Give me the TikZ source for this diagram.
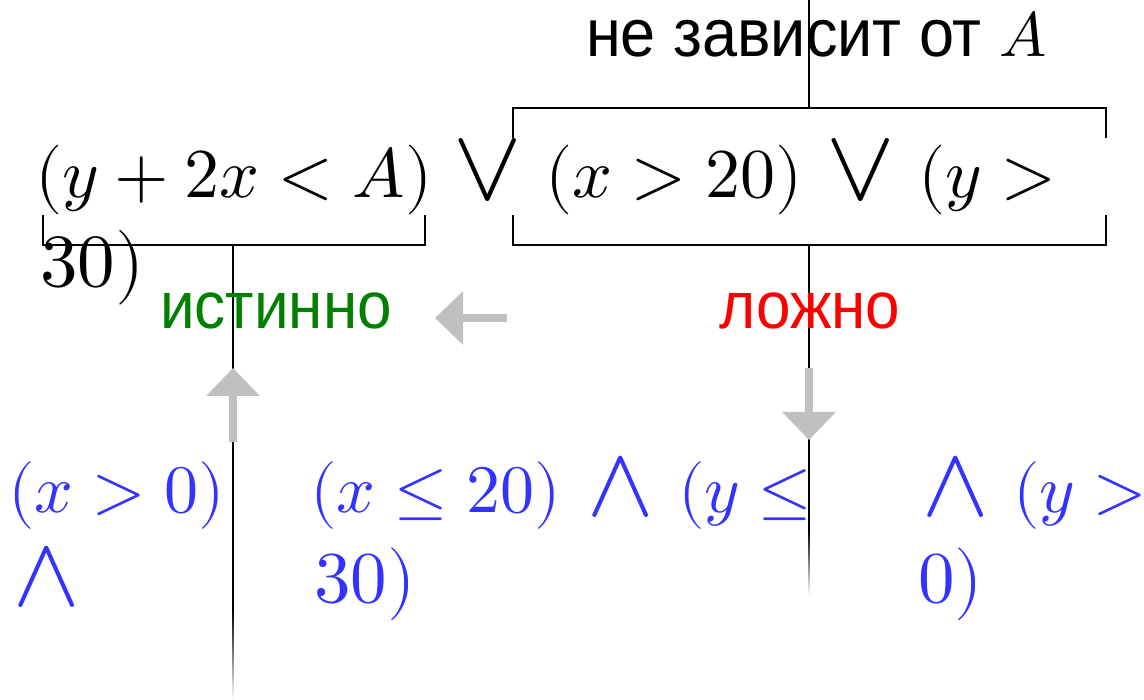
\documentclass[tikz,border=0pt]{standalone}
\usepackage{fontspec}
\usepackage{unicode-math}
\setmathfont{Latin Modern Math}
\setsansfont{Liberation Sans}
\usetikzlibrary{arrows.meta}
\definecolor{ablue}{RGB}{51,51,255}
\definecolor{agreen}{RGB}{0,128,0}
\definecolor{ared}{RGB}{255,0,0}
\definecolor{agray}{RGB}{192,192,192}
\newcommand{\bigor}{\scalebox{1.55}[1.45]{$\lor$}}
\newcommand{\bigand}{\scalebox{1.55}[1.45]{$\land$}}
\newcommand{\tallsans}[1]{\scalebox{1}[1.07]{#1}}
\tikzset{
  frm/.style={anchor=base west,inner sep=0pt,font=\fontsize{70}{84}\selectfont},
  opr/.style={frm,anchor=base},
  bl/.style={anchor=base west,inner sep=0pt,font=\fontsize{68}{82}\selectfont,text=ablue},
  blopr/.style={bl,anchor=base},
  lbl/.style={anchor=base,inner sep=0pt,font=\sffamily\fontsize{62}{72}\selectfont},
  brk/.style={line width=2pt,black},
  conn/.style={line width=1.6pt,black},
  fadeconn/.style={top color=black,bottom color=white,draw=none},
  garrow/.style={line width=8pt,agray,-{Triangle[width=52pt,length=28pt]}}
}
\begin{document}
\begin{tikzpicture}[x=1pt,y=-1pt]
\useasboundingbox (0,0) rectangle (1144,700);
% top text
\node[lbl,anchor=base west,font=\sffamily\fontsize{63}{72}\selectfont] (top) at (586,57) {\tallsans{не зависит от} $A$};
% main formula
\node[frm] (f1) at (35,198) {$(y+2x<A)$};
\node[opr] (or1) at (488,200) {\bigor};
\node[frm] (f2) at (545,198) {$(x>20)$};
\node[opr] (or2) at (861,200) {\bigor};
\node[frm] (f3) at (918,198) {$(y>$};
\node[frm,font=\fontsize{75}{84}\selectfont] (f4) at (40,287) {$30)$};
% brackets
\coordinate (tl) at (513,108); \coordinate (tr) at (1106,108);
\coordinate (bl) at (513,245); \coordinate (br) at (1106,245);
\coordinate (ll) at (43,245); \coordinate (lr) at (425,245);
\draw[brk] ([yshift=-30pt]tl) -- (tl) -- (tr) -- ([yshift=-30pt]tr);
\draw[brk] ([yshift=30pt]bl) -- (bl) -- (br) -- ([yshift=30pt]br);
\draw[brk] ([yshift=30pt]ll) -- (ll) -- (lr) -- ([yshift=30pt]lr);
\coordinate (tm) at (809,108); \coordinate (bm) at (809,245); \coordinate (lm) at (233,245);
\coordinate (top0) at (809,0);
\coordinate (rfade) at (809,530);
\coordinate (rend) at (809,595);
\coordinate (lfade) at (233,610);
\coordinate (lend) at (233,700);
\draw[brk] (top0) -- (tm);
\draw[conn] (bm) -- (rfade);
\shade[fadeconn] ([xshift=-0.8pt]rfade) rectangle ([xshift=0.8pt]rend);
\draw[conn] (lm) -- (lfade);
\shade[fadeconn] ([xshift=-0.8pt]lfade) rectangle ([xshift=0.8pt]lend);
% labels
\node[lbl,text=agreen] (ist) at (276,329) {\tallsans{истинно}};
\node[lbl,text=ared] (lozh) at (810,329) {\tallsans{ложно}};
% gray arrows
\coordinate (a1s) at (233,442); \coordinate (a1e) at (233,368);
\coordinate (a2s) at (809,368); \coordinate (a2e) at (809,440);
\coordinate (a3s) at (507,318); \coordinate (a3e) at (435,318);
\draw[garrow] (a1s) -- (a1e);
\draw[garrow] (a2s) -- (a2e);
\draw[garrow] (a3s) -- (a3e);
% blue conditions
\node[bl] (b1) at (8,512) {$(x>0)$};
\node[blopr] (b2) at (47,605) {\bigand};
\node[bl] (b3) at (310,512) {$(x\le 20)$};
\node[blopr] (b4) at (621,515) {\bigand};
\node[bl] (b5) at (678,512) {$(y\le$};
\node[bl,font=\fontsize{73}{82}\selectfont] (b6) at (314,602) {$30)$};
\node[blopr] (b7) at (956,515) {\bigand};
\node[bl] (b8) at (1013,512) {$(y>$};
\node[bl,font=\fontsize{73}{82}\selectfont] (b9) at (918,602) {$0)$};
\end{tikzpicture}
\end{document}
